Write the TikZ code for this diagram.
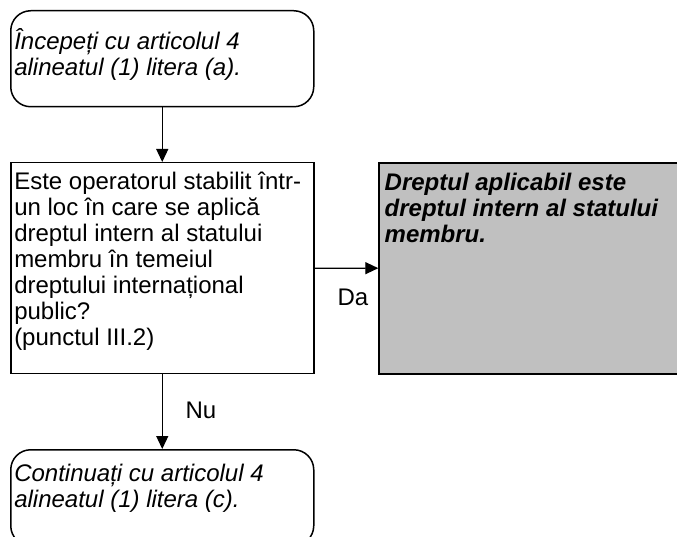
\documentclass[tikz,border=0pt]{standalone}
\usepackage{fontspec}
\setmainfont{Liberation Sans}
\usetikzlibrary{arrows.meta, positioning}

\definecolor{boxgray}{HTML}{C0C0C0}
\newcommand{\boxtext}[4]{\parbox[c][#2][t]{#1}{\rule{0pt}{#3}#4}}

\begin{document}
\begin{tikzpicture}[x=1pt, y=-1pt,
  font=\fontsize{24pt}{26pt}\selectfont,
  >={Triangle[width=12pt,length=13pt]},
  every node/.style={inner xsep=3.5pt, inner ysep=0pt},
  roundbox/.style={draw, line width=1.5pt, rounded corners=20pt, anchor=north west},
  askbox/.style={draw, line width=1.5pt, anchor=north west},
  endbox/.style={draw, line width=1.8pt, fill=boxgray, anchor=north west, inner xsep=5.5pt},
  arr/.style={->, line width=1.3pt},
  lbl/.style={inner sep=0pt}]
\useasboundingbox (0,0) rectangle (677,537);
% boxes
\node[roundbox] (start) at (10,10) {\boxtext{296pt}{96pt}{39pt}{\itshape Începeți cu articolul 4\\ alineatul (1) litera (a).}};
\node[askbox] (question) at (10,162) {\boxtext{296pt}{210.7pt}{26.5pt}{Este operatorul stabilit într-\\ un loc în care se aplică\\ dreptul intern al statului\\ membru în temeiul\\ dreptului internațional\\ public?\\ (punctul III.2)}};
\node[endbox] (result) at (378.3,162) {\boxtext{306pt}{210.7pt}{28pt}{\bfseries\itshape Dreptul aplicabil este\\ dreptul intern al statului\\ membru.}};
\node[roundbox] (next) at (10,449) {\boxtext{296pt}{96pt}{32pt}{\itshape Continuați cu articolul 4\\ alineatul (1) litera (c).}};
% arrows
\draw[arr] (start) -- (question);
\draw[arr] (question) -- (result);
\draw[arr] (question) -- (next);
\node[lbl] (da) at (353,297) {Da};
\node[lbl] (nu) at (201,410) {Nu};
\end{tikzpicture}
\end{document}
